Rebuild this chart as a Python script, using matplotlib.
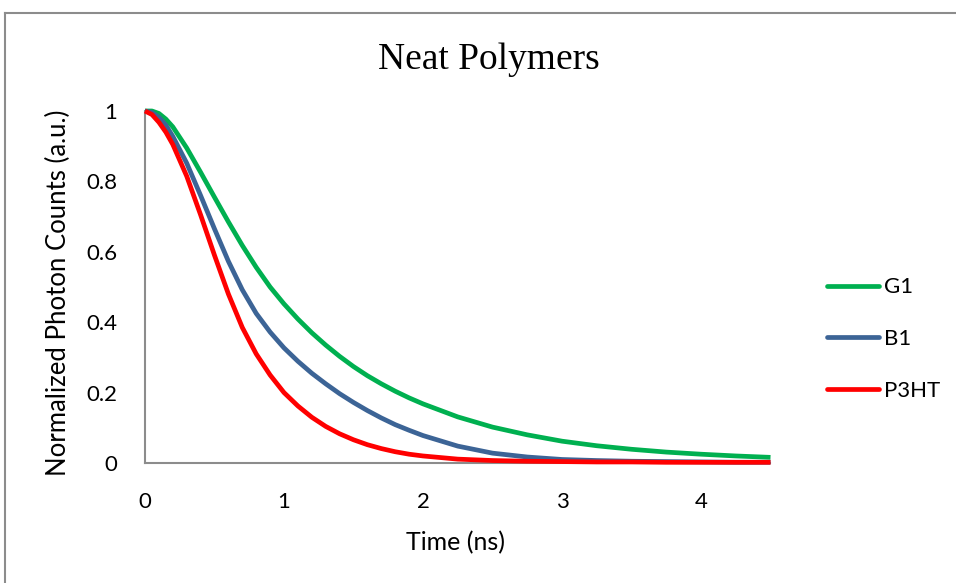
import matplotlib
matplotlib.use("Agg")
import matplotlib.pyplot as plt
from matplotlib.lines import Line2D

# ---- data ----
time_ns = [0, 0.05, 0.1, 0.15, 0.2, 0.3, 0.4, 0.5, 0.6, 0.7, 0.8, 0.9, 1.0,
           1.1, 1.2, 1.3, 1.4, 1.5, 1.6, 1.7, 1.8, 1.9, 2.0,
           2.25, 2.5, 2.75, 3.0, 3.25, 3.5, 3.75, 4.0, 4.25, 4.5]

g1 = [1.000, 1.000, 0.993, 0.977, 0.955, 0.895, 0.826, 0.755, 0.685, 0.618, 0.556, 0.500, 0.452,
      0.409, 0.370, 0.335, 0.303, 0.274, 0.248, 0.225, 0.204, 0.185, 0.168,
      0.131, 0.102, 0.080, 0.062, 0.049, 0.039, 0.031, 0.025, 0.020, 0.016]

b1 = [1.000, 0.996, 0.982, 0.960, 0.928, 0.852, 0.760, 0.665, 0.573, 0.492, 0.425, 0.372, 0.327,
      0.289, 0.255, 0.225, 0.197, 0.172, 0.149, 0.128, 0.109, 0.093, 0.078,
      0.048, 0.028, 0.017, 0.010, 0.007, 0.005, 0.004, 0.003, 0.002, 0.002]

p3ht = [1.000, 0.990, 0.968, 0.940, 0.905, 0.815, 0.705, 0.590, 0.480, 0.385, 0.310, 0.250, 0.200,
        0.162, 0.130, 0.104, 0.083, 0.066, 0.052, 0.041, 0.032, 0.025, 0.020,
        0.011, 0.007, 0.005, 0.004, 0.003, 0.003, 0.002, 0.002, 0.002, 0.002]

series_names = ["G1", "B1", "P3HT"]
series_colors = ["#00B050", "#3C6496", "#FF0000"]

x_ticks = [0, 1, 2, 3, 4]
y_ticks = [0, 0.2, 0.4, 0.6, 0.8, 1]
y_tick_labels = ["0", "0.2", "0.4", "0.6", "0.8", "1"]

title = "Neat Polymers"
x_label = "Time (ns)"
y_label = "Normalized Photon Counts (a.u.)"

# ---- figure ----
W, H = 956, 583
fig = plt.figure(figsize=(W / 100, H / 100), dpi=100)
sans = ["Lato", "DejaVu Sans"]
serif = ["Liberation Serif", "DejaVu Serif"]

left, right = 145 / W, 770.5 / W
bottom, top = 1 - 463 / H, 1 - 111 / H
ax = fig.add_axes([left, bottom, right - left, top - bottom])

lw = 3.4
for vals, name, col in zip([g1, b1, p3ht], series_names, series_colors):
    ax.plot(time_ns, vals, color=col, lw=lw, label=name, clip_on=False,
            solid_joinstyle="round", solid_capstyle="butt", zorder=3)

ax.set_xlim(0, 4.5)
ax.set_ylim(0, 1)
ax.set_xticks(x_ticks)
ax.set_xticklabels([str(t) for t in x_ticks])
ax.set_yticks(y_ticks)
ax.set_yticklabels(y_tick_labels)

for s in ["top", "right"]:
    ax.spines[s].set_visible(False)
for s in ["left", "bottom"]:
    ax.spines[s].set_color("#8C8C8C")
    ax.spines[s].set_linewidth(1.5)
    ax.spines[s].set_zorder(2)

ax.tick_params(axis="both", length=0, labelsize=16, colors="black")
ax.tick_params(axis="x", pad=21)
ax.tick_params(axis="y", pad=20)
for lab in ax.get_xticklabels() + ax.get_yticklabels():
    lab.set_family(sans)

fig.text(489 / W, 1 - 60 / H, title, ha="center", va="center",
         fontsize=27, family=serif)
fig.text(455 / W, 1 - 543 / H, x_label, ha="center", va="center",
         fontsize=18, family=sans)
fig.text(58 / W, 1 - 293 / H, y_label, ha="center", va="center",
         rotation=90, fontsize=18.5, family=sans)

handles = [Line2D([0], [0], color=c, lw=lw, solid_capstyle="round")
           for c in series_colors]
leg = fig.legend(handles, series_names, loc="center left",
                 bbox_to_anchor=(818 / W, 1 - 339 / H),
                 frameon=False, handlelength=2.35,
                 handletextpad=0.2, labelspacing=1.42, borderaxespad=0,
                 prop={"family": sans, "size": 16})

# outer chart border (clipped by the image on right/bottom)
fig.add_artist(Line2D([5 / W, 5 / W], [0, 1 - 13 / H], color="#8C8C8C",
                      lw=1.5, transform=fig.transFigure))
fig.add_artist(Line2D([5 / W, 1], [1 - 13 / H, 1 - 13 / H], color="#8C8C8C",
                      lw=1.5, transform=fig.transFigure))

fig.savefig("out.png", dpi=100)
